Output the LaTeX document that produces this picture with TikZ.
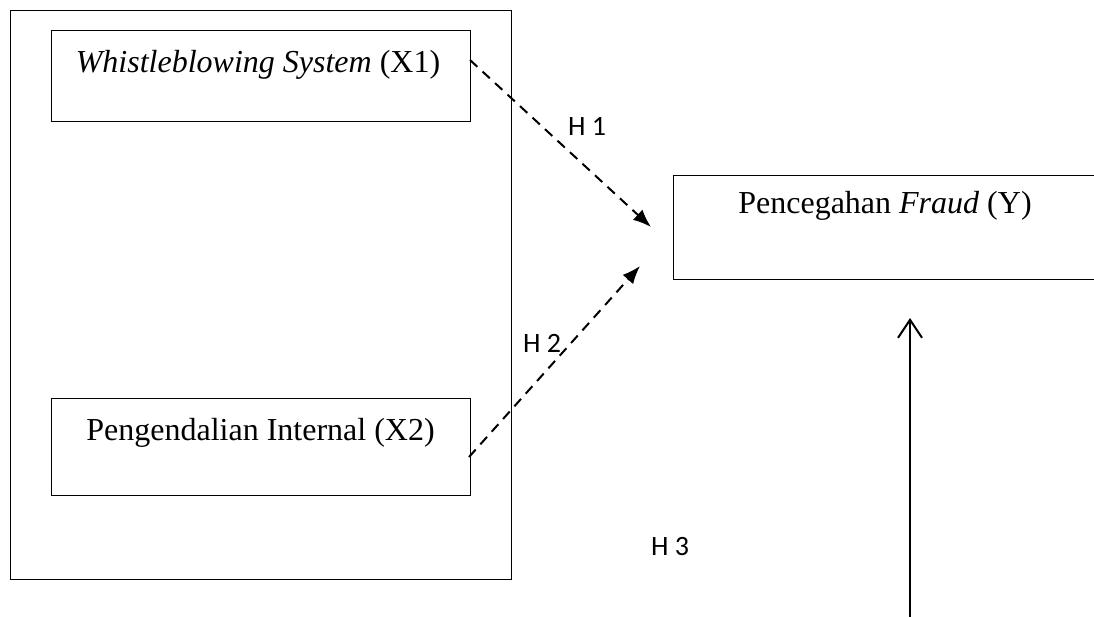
\documentclass[tikz,border=0pt]{standalone}
\usepackage{fontspec}
\setmainfont{Liberation Serif}[
  UprightFont = {Liberation Serif},
  ItalicFont = {Liberation Serif Italic},
  BoldFont = {Liberation Serif Bold}]
\newfontfamily\labelfont{Carlito}
\usetikzlibrary{arrows.meta,calc}

\tikzset{
  box/.style={draw, line width=1.4pt, rectangle, inner sep=0pt, anchor=north west},
  boxtext/.style={anchor=base, inner sep=0pt, font=\fontsize{32}{38}\selectfont},
  hyp/.style={anchor=base west, inner sep=0pt, font=\labelfont\fontsize{28}{34}\selectfont},
  dasharrow/.style={line width=2pt, dash pattern=on 10pt off 7pt,
    -{Latex[length=18pt,width=14pt]}},
  solidarrow/.style={line width=2pt, -{Straight Barb[length=18pt,width=24pt,line width=2pt]}}
}

\begin{document}
\begin{tikzpicture}[x=1pt, y=-1pt]
  \useasboundingbox (0,0) rectangle (1094,616);
  \clip (0,0) rectangle (1094,616);

  % outer frame around the two independent variables
  \node[box, minimum width=501pt, minimum height=569pt] (outer) at (10,10) {};

  % variable boxes
  \node[box, minimum width=419pt, minimum height=91pt] (x1) at (51,30) {};
  \node[box, minimum width=419pt, minimum height=97pt] (x2) at (51,398) {};
  \node[box, minimum width=424pt, minimum height=104pt] (y) at (673,175) {};

  \node[boxtext] (x1t) at (258,72) {\textit{Whistleblowing System} (X1)};
  \node[boxtext] (x2t) at (260.5,440) {Pengendalian Internal (X2)};
  \node[boxtext] (yt) at (885,213) {Pencegahan \textit{Fraud} (Y)};

  % hypothesis labels
  \node[hyp] (h1) at (568,135) {H 1};
  \node[hyp] (h2) at (523,352) {H 2};
  \node[hyp] (h3) at (651,555) {H 3};

  % connector end points
  \coordinate (a1s) at (470,60);
  \coordinate (a1e) at (651,227);
  \coordinate (a2s) at (469,457);
  \coordinate (a2e) at (640,266);
  \coordinate (a3s) at (910,620);
  \coordinate (a3e) at (910,318);

  \draw[dasharrow] (a1s) -- (a1e);
  \draw[dasharrow] (a2s) -- (a2e);
  \draw[solidarrow] (a3s) -- (a3e);
\end{tikzpicture}
\end{document}
